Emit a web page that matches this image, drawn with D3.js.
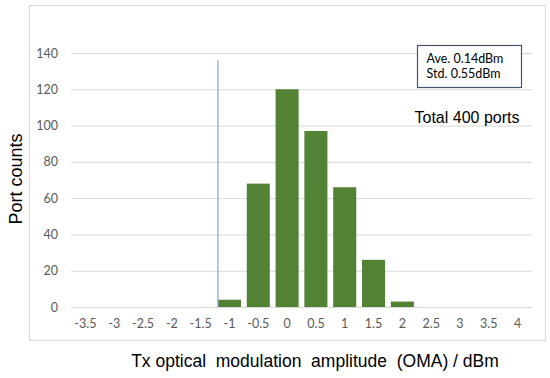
<!DOCTYPE html>
<html>
<head>
<meta charset="utf-8">
<script src="https://cdn.jsdelivr.net/npm/d3@7"></script>
<style>
  body { margin: 0; background: #fff; }
  svg { display: block; }
  .tick text { font-family: Lato, "Open Sans", sans-serif; font-size: 12.5px; fill: #595959; }
  .axis-title { font-family: "Liberation Sans", Arial, sans-serif; fill: #000; }
</style>
</head>
<body>
<svg width="550" height="378"></svg>
<script>
const categories = ['-3.5', '-3', '-2.5', '-2', '-1.5', '-1', '-0.5', '0', '0.5', '1', '1.5', '2', '2.5', '3', '3.5', '4'];
const counts = [0, 0, 0, 0, 0, 4, 68, 120, 97, 66, 26, 3, 0, 0, 0, 0];
const yTicks = [0, 20, 40, 60, 80, 100, 120, 140];
const limitX = -1.2;
const limitTop = 136;
const statLines = ['Ave. 0.14dBm', 'Std. 0.55dBm'];
const totalLabel = 'Total 400 ports';

const svg = d3.select('svg');
const width = +svg.attr('width');
const height = +svg.attr('height');

const margin = {top: 53, right: 18, bottom: 71, left: 71};
const innerWidth = width - margin.left - margin.right;
const innerHeight = height - margin.top - margin.bottom;

// chart frame
svg.append('rect')
  .attr('x', 29.5).attr('y', 5.5)
  .attr('width', 516).attr('height', 335)
  .attr('fill', '#fff')
  .attr('stroke', '#d9d9d9');

const g = svg.append('g')
  .attr('transform', `translate(${margin.left}, ${margin.top})`);

const xScale = d3.scaleBand()
  .domain(categories)
  .range([0, innerWidth])
  .paddingInner(0.2)
  .paddingOuter(0.1);

// linear scale through the category centres, for the limit line
const xValue = d3.scaleLinear()
  .domain([+categories[0], +categories[categories.length - 1]])
  .range([xScale(categories[0]) + xScale.bandwidth() / 2,
          xScale(categories[categories.length - 1]) + xScale.bandwidth() / 2]);

const yScale = d3.scaleLinear()
  .domain([0, 140])
  .range([innerHeight, 0]);

const yAxisG = g.append('g')
  .call(d3.axisLeft(yScale).tickValues(yTicks).tickSize(-innerWidth).tickPadding(13));
yAxisG.select('.domain').remove();
yAxisG.selectAll('.tick line').attr('stroke', '#d9d9d9');

const xAxisG = g.append('g')
  .attr('transform', `translate(0, ${innerHeight})`)
  .call(d3.axisBottom(xScale).tickSize(0).tickPadding(12));
xAxisG.select('.domain').remove();

g.selectAll('rect.bar')
  .data(counts)
  .enter().append('rect')
    .attr('class', 'bar')
    .attr('x', (d, i) => xScale(categories[i]))
    .attr('y', d => yScale(d))
    .attr('width', xScale.bandwidth())
    .attr('height', d => innerHeight - yScale(d))
    .attr('fill', '#548235');

g.append('line')
  .attr('x1', xValue(limitX)).attr('x2', xValue(limitX))
  .attr('y1', yScale(0)).attr('y2', yScale(limitTop))
  .attr('stroke', '#7ea6e0')
  .attr('stroke-width', 1.2);

// stats box
const box = svg.append('g').attr('transform', 'translate(417.5, 45.5)');
box.append('rect')
  .attr('width', 104).attr('height', 42)
  .attr('fill', '#fff')
  .attr('stroke', '#44546a')
  .attr('stroke-width', 1.2);
box.selectAll('text')
  .data(statLines)
  .enter().append('text')
    .attr('x', 9)
    .attr('y', (d, i) => 17 + i * 15)
    .attr('font-family', 'Lato, "Open Sans", sans-serif')
    .attr('font-size', 12.5)
    .attr('fill', '#000')
    .text(d => d);

svg.append('text')
  .attr('x', 467).attr('y', 123)
  .attr('text-anchor', 'middle')
  .attr('font-family', '"Liberation Sans", Arial, sans-serif')
  .attr('font-size', 16)
  .text(totalLabel);

svg.append('text')
  .attr('class', 'axis-title')
  .attr('transform', 'translate(22, 179) rotate(-90)')
  .attr('text-anchor', 'middle')
  .attr('font-size', 18)
  .text('Port counts');

svg.append('text')
  .attr('class', 'axis-title')
  .attr('x', 315).attr('y', 367)
  .attr('text-anchor', 'middle')
  .attr('font-size', 17.5)
  .style('white-space', 'pre')
  .text('Tx optical  modulation  amplitude  (OMA) / dBm');
</script>
</body>
</html>
